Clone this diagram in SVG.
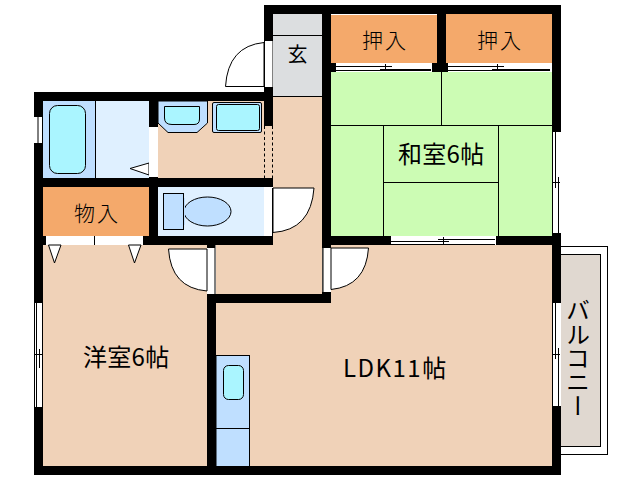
<svg xmlns="http://www.w3.org/2000/svg" width="638" height="480" viewBox="0 0 638 480">
<style>
.floor{fill:#f0d2b8}
.wall{fill:#000}
.ln{fill:none;stroke:#000;stroke-width:1}
.closet{fill:#f4a96b}
.tatami{fill:#ccfcb4}
.wet{fill:#dff0ff;stroke:none}
.fix{fill:#bfdfff;stroke:#000;stroke-width:1}
.basin{fill:#aaf5ff;stroke:#000;stroke-width:1}
.swing{fill:#fff;stroke:#000;stroke-width:1}
.w{fill:#fff}
.t{font-family:"Noto Sans CJK JP","Liberation Sans",sans-serif;fill:#000}
.c{font-size:21px;font-weight:300;text-anchor:middle;letter-spacing:2px}
</style>
<rect width="638" height="480" fill="#fff"/>
<g id="balcony">
<rect x="560" y="246.500" width="47.500" height="208" class="swing"/>
<rect x="560" y="254.500" width="40.500" height="192" fill="#e0d8d0" stroke="#000"/>
</g>
<g id="floors">
<rect x="43" y="245" width="164" height="221" class="floor"/>
<rect x="158" y="101" width="164" height="77" class="floor"/>
<rect x="273" y="96" width="49" height="198" class="floor"/>
<rect x="216" y="245" width="106" height="49" class="floor"/>
<rect x="216" y="303" width="336" height="163" class="floor"/>
<rect x="331" y="245" width="221" height="58" class="floor"/>
<rect x="273" y="14" width="49" height="82.500" fill="#dcdee0"/>
<rect x="331" y="15" width="106" height="48" class="closet"/>
<rect x="446" y="14" width="106" height="49" class="closet"/>
<rect x="43" y="187" width="106" height="49" class="closet"/>
<rect x="331" y="72" width="221" height="164" class="tatami"/>
<rect x="43" y="101" width="106" height="77" class="wet"/>
<rect x="43" y="101" width="52.500" height="77" fill="#bfdfff"/>
<rect x="158" y="187" width="106" height="49" class="wet"/>
</g>
<g id="floor-lines" class="ln">
<path d="M273 35.500H322M273 96.500H322M95.500 101V178"/>
<path d="M441.500 72V125.500M331 125.500H552M383.500 125.500V236M498.500 125.500V236M383 182.500H498"/>
<path d="M264.500 126V178M272.500 126V178" stroke-dasharray="3 2.500"/>
</g>
<g id="fixtures">
<rect x="49.500" y="105.500" width="36" height="68" rx="8" class="basin"/>
<path d="M130 168.500L149 163V175Z" class="swing"/>
<path d="M158 101H207.500V123L197 132.500H168L158 123Z" class="fix"/>
<path d="M164.500 106.500H199.500V119Q199.500 124.500 194 124.500H172Q164.500 124.500 164.500 118Z" class="basin"/>
<rect x="212.500" y="102.500" width="49" height="30" rx="1.500" class="fix"/>
<rect x="216.500" y="104.500" width="43" height="26" rx="2" class="basin"/>
<rect x="163.500" y="193.500" width="20" height="36" class="fix"/>
<ellipse cx="207.500" cy="211.500" rx="23.500" ry="14.500" class="fix"/>
<rect x="184" y="198" width="1" height="27" fill="#bfdfff"/>
<rect x="216" y="355.500" width="33.500" height="111" class="fix"/>
<path d="M216 428.500H249" class="ln"/>
<rect x="223.500" y="365.500" width="20" height="34" rx="5" class="basin"/>
<path d="M48.500 245L54.500 263L61 245ZM128.500 245L134.500 263L141 245Z" class="swing"/>
</g>
<g id="walls" class="wall">
<rect x="34" y="92" width="239" height="9"/>
<rect x="34" y="92" width="9" height="383"/>
<rect x="34" y="466" width="527" height="9"/>
<rect x="34" y="178" width="239" height="9"/>
<rect x="149" y="101" width="9" height="144"/>
<rect x="143" y="236" width="130" height="9"/>
<rect x="43" y="236" width="3" height="9"/>
<rect x="207" y="245" width="8.500" height="3"/>
<rect x="207" y="294" width="9" height="181"/>
<rect x="207" y="294" width="124" height="9"/>
<rect x="264" y="5" width="9" height="121"/>
<rect x="264" y="5" width="297" height="9"/>
<rect x="322" y="5" width="9" height="298"/>
<rect x="552" y="5" width="9" height="470"/>
<rect x="437" y="5" width="9" height="67"/>
<rect x="331" y="63" width="5" height="9"/>
<rect x="432" y="63" width="16" height="9"/>
<rect x="322" y="236" width="230" height="9"/>
</g>
<g id="doors">
<rect x="149" y="127" width="9" height="50" class="w"/>
<rect x="264" y="188" width="9" height="48" class="w"/>
<rect x="272" y="188" width="1" height="48" class="wall"/>
<rect x="207" y="248" width="8" height="46" class="w"/>
<rect x="214.500" y="248" width="1" height="46" class="wall"/>
<rect x="264" y="41" width="8.500" height="46" class="w"/>
<rect x="264" y="41" width="1" height="46" class="wall"/>
<rect x="322.500" y="248" width="8.500" height="44" class="w"/>
<rect x="322.500" y="248" width="1" height="44" class="wall"/>
<path d="M273 188H314Q311 230 273 232.500V188Z" class="swing"/>
<path d="M207 249H168.500Q171 288 207 291Z" class="swing"/>
<path d="M264 86.500H225.500Q228 46 264 42.500Z" class="swing"/>
<path d="M331 248H368.500Q366 286 331 289.500Z" class="swing"/>
</g>
<g id="windows">
<rect x="46" y="237" width="97" height="7" class="w"/>
<path d="M94.500 236V245" class="ln"/>
<rect x="336" y="63.500" width="96" height="8" class="w"/>
<path d="M336 66.500H392M380 69.500H431M336 70.500H431M385.500 64V71" class="ln"/>
<rect x="448" y="63.500" width="103" height="8" class="w"/>
<path d="M448 66.500H504M492 69.500H550M448 70.500H550M497.500 64V71" class="ln"/>
<rect x="391" y="236" width="105" height="9" class="w"/>
<path d="M391 241.500H449M438 239.500H495M391 244.500H495M443.500 237V244" class="ln"/>
<rect x="552" y="132" width="9" height="101" class="w"/>
<path d="M552.500 132V233M555.500 132V188M558.500 177V233M553 182.500H560" class="ln"/>
<rect x="552" y="303" width="9" height="103" class="w"/>
<path d="M552.500 303V406M555.500 303V359M558.500 348V406M553 354.500H560" class="ln"/>
<rect x="34" y="117" width="9" height="26" class="w"/>
<path d="M38 117V143M42.500 117V143" class="ln"/>
<rect x="34" y="303" width="9" height="104" class="w"/>
<path d="M34.500 303V407M36.500 303V407M39.500 349V368M42.500 303V407M34 354.500H42" class="ln"/>
</g>
<g id="labels" class="t">
<text x="97" y="221" class="c">物入</text>
<text x="385" y="48" class="c">押入</text>
<text x="500" y="48" class="c">押入</text>
<text x="297.500" y="62" font-size="20" text-anchor="middle">玄</text>
<text x="398" y="163" font-size="24" letter-spacing="0.300">和室6帖</text>
<text x="83" y="366" font-size="24" letter-spacing="0.300">洋室6帖</text>
<text x="343" y="377" font-size="24" letter-spacing="1.500">LDK11帖</text>
<text x="578" y="298" font-size="24" style="writing-mode:vertical-rl">バルコニー</text>
</g>
</svg>
